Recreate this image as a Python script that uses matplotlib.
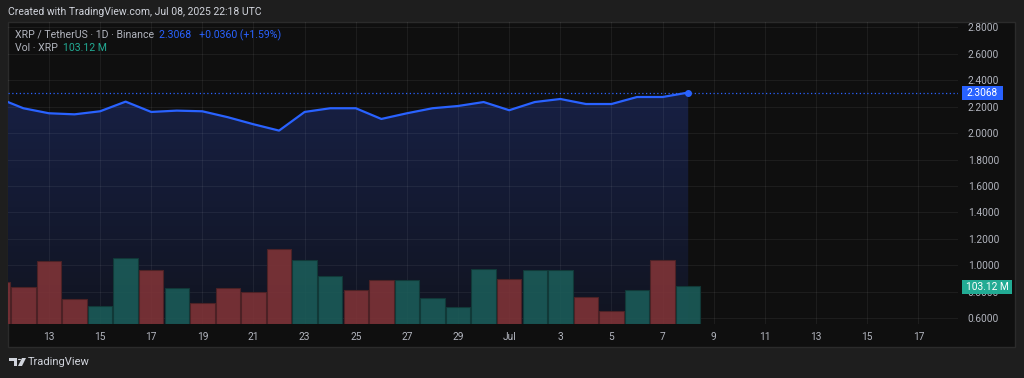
import numpy as np
import pandas as pd
import matplotlib
matplotlib.use("Agg")
import matplotlib.pyplot as plt
import matplotlib.dates as mdates
from matplotlib.patches import Rectangle, Polygon, Circle

plt.rcParams['font.family'] = ['Roboto', 'DejaVu Sans']

dates = pd.date_range('2025-06-11', '2025-07-08', freq='D')
close = [2.266, 2.188, 2.150, 2.142, 2.165, 2.238, 2.160, 2.170, 2.165, 2.120,
         2.067, 2.019, 2.160, 2.188, 2.188, 2.107, 2.150, 2.188, 2.205, 2.235,
         2.173, 2.235, 2.258, 2.220, 2.220, 2.273, 2.273, 2.3068]
volume = [114, 98.8, 169.6, 68.2, 47.6, 176.8, 144.5, 96, 57.4, 96,
          87, 201.9, 171.4, 128.3, 91.5, 118.5, 118.5, 70.9, 45.8, 149,
          121.2, 146.3, 146.3, 72.7, 35, 91.5, 172.3, 103.12]
up = [0, 0, 0, 0, 1, 1, 0, 1, 0, 0,
      0, 0, 1, 1, 0, 0, 1, 1, 1, 1,
      0, 1, 1, 0, 0, 1, 0, 1]
price_ticks = [0.6, 0.8, 1.0, 1.2, 1.4, 1.6, 1.8, 2.0, 2.2, 2.4, 2.6, 2.8]
last_price = 2.3068
last_vol = 103.12

W, H = 1024, 378
fig = plt.figure(figsize=(W / 100, H / 100), dpi=100)
fig.patch.set_facecolor('#1e1e1e')

# inner panel
fig.patches.append(Rectangle((8 / W, 1 - 347 / H), 1007 / W, 325 / H, transform=fig.transFigure,
                             facecolor='#0f0f0f', edgecolor='#2b2b2b', lw=1, zorder=0))

ax = fig.add_axes([8 / W, 1 - 324 / H, 950 / W, 302 / H])
ax.set_facecolor('none')
axv = ax.twinx()
ax.set_zorder(2)
axv.set_zorder(3)
axv.set_facecolor('none')

x = mdates.date2num(dates)
start = mdates.date2num(pd.Timestamp('2025-06-11'))
ymin, ymax = 0.557, 2.840

# gradient area under the line
grad = np.linspace(0, 1, 256).reshape(-1, 1)
cmap = matplotlib.colors.LinearSegmentedColormap.from_list('g', ['#111420', '#172044'])
im = ax.imshow(grad, extent=[x[0], x[-1], ymin, 2.32], origin='lower', aspect='auto',
               cmap=cmap, zorder=0)
poly = ax.fill_between(x, close, ymin, color='none', lw=0)
im.set_clip_path(poly.get_paths()[0], transform=ax.transData)

# volume bars
colors = ['#1b5b58' if u else '#7e3337' for u in up]
edges = ['#113a38' if u else '#4e2225' for u in up]
axv.bar(x, volume, width=0.96, color=colors, edgecolor=edges, lw=0.8, alpha=0.9, zorder=2)

# grid
for p in price_ticks:
    ax.axhline(p, color='#ffffff', alpha=0.06, lw=0.8, zorder=1)
tick_days = list(pd.date_range('2025-06-13', '2025-06-29', freq='2D')) + [pd.Timestamp('2025-07-01')] + \
    list(pd.date_range('2025-07-03', '2025-07-17', freq='2D'))
for d in tick_days:
    ax.axvline(mdates.date2num(d), color='#ffffff', alpha=0.06, lw=0.8, zorder=1)

# price line
ax.plot(x, close, color='#2962ff', lw=1.6, zorder=5, solid_joinstyle='round')
ax.plot(x[-1], close[-1], 'o', color='#2962ff', ms=4, zorder=6)
ax.axhline(last_price, color='#2962ff', lw=0.9, ls=(0, (1, 2)), zorder=4)

ax.set_xlim(start + 0.40, start + 37.55)
ax.set_ylim(ymin, ymax)
axv.set_ylim(0, 813)

ax.set_xticks([mdates.date2num(d) for d in tick_days])
ax.set_xticklabels(['Jul' if (d.month == 7 and d.day == 1) else str(d.day) for d in tick_days])
ax.set_yticks(price_ticks)
ax.set_yticklabels(['%.4f' % p for p in price_ticks])
ax.yaxis.tick_right()
ax.tick_params(axis='y', length=0, pad=7, labelsize=7.3, labelcolor='#b2b5be')
ax.tick_params(axis='x', length=0, pad=6, labelsize=7.3, labelcolor='#b2b5be')
axv.set_yticks([])
for a in (ax, axv):
    for s in a.spines.values():
        s.set_visible(False)

# price and volume labels on the scale
def ylab(yp, text, fc, x0p, x1p):
    h = 14
    fig.patches.append(Rectangle((x0p / W, 1 - (yp + h / 2) / H), (x1p - x0p) / W, h / H,
                                 transform=fig.transFigure, facecolor=fc, edgecolor='none', zorder=5))
    fig.text((x0p + x1p) / 2 / W, 1 - yp / H, text, color='white', fontsize=7.3,
             ha='center', va='center', zorder=6)

ylab(93, '%.4f' % last_price, '#2962ff', 962, 1003)
ylab(286.5, '%.2f M' % last_vol, '#22ab94', 962, 1012)

# header and legend text
fig.text(8 / W, 1 - 12 / H, 'Created with TradingView.com, Jul 08, 2025 22:18 UTC',
         color='#d1d4dc', fontsize=7.5, va='center')
fig.text(15 / W, 1 - 35 / H, 'XRP / TetherUS · 1D · Binance', color='#b2b5be', fontsize=7.6, va='center')
fig.text(159 / W, 1 - 35 / H, '2.3068   +0.0360 (+1.59%)', color='#2962ff', fontsize=7.6, va='center')
fig.text(15 / W, 1 - 48 / H, 'Vol · XRP', color='#b2b5be', fontsize=7.6, va='center')
fig.text(63 / W, 1 - 48 / H, '103.12 M', color='#22ab94', fontsize=7.6, va='center')

# TradingView logo mark
def px(pts):
    return [(a / W, 1 - b / H) for a, b in pts]

logo = '#d1d4dc'
fig.patches.append(Polygon(px([(9, 358), (17, 358), (17, 366), (14, 366), (14, 361), (9, 361)]),
                           closed=True, transform=fig.transFigure, facecolor=logo, edgecolor='none'))
fig.patches.append(Circle((19.5 / W, 1 - 359.5 / H), 1.6 / W, transform=fig.transFigure,
                          facecolor=logo, edgecolor='none'))
fig.patches.append(Polygon(px([(22, 358), (26, 358), (22, 366), (18, 366)]),
                           closed=True, transform=fig.transFigure, facecolor=logo, edgecolor='none'))
fig.text(28 / W, 1 - 362 / H, 'TradingView', color='#d1d4dc', fontsize=8, va='center')

fig.savefig('out.png', dpi=100, facecolor=fig.get_facecolor())
